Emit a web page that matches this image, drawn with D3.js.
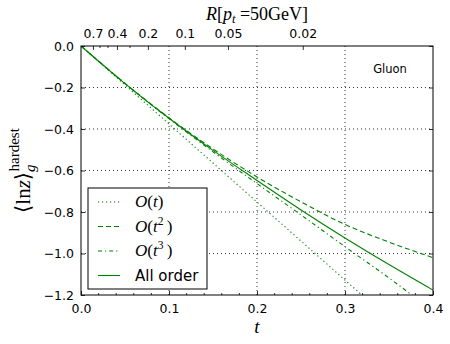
<!DOCTYPE html>
<html>
<head>
<meta charset="utf-8">
<script src="https://cdn.jsdelivr.net/npm/d3@7"></script>
<style>
  body { margin: 0; background: #fff; }
  svg { display: block; }
  .tick text { font-family: "DejaVu Sans", sans-serif; font-size: 12.5px; fill: #000; }
  .math { font-family: "Liberation Serif", "DejaVu Serif", serif; }
</style>
</head>
<body>
<svg id="chart" width="450" height="344"></svg>
<script>
// values
const tVals       = [0, 0.05, 0.1, 0.15, 0.2, 0.25, 0.3, 0.35, 0.4];
const firstOrder  = [0, -0.188, -0.376, -0.564, -0.752, -0.940, -1.128, -1.316, -1.504];
const secondOrder = [0, -0.180, -0.346, -0.496, -0.631, -0.751, -0.860, -0.945, -1.020];
const thirdOrder  = [0, -0.181, -0.350, -0.510, -0.663, -0.814, -0.967, -1.118, -1.278];
const allOrder    = [0, -0.181, -0.348, -0.503, -0.648, -0.790, -0.925, -1.053, -1.176];

const xTicks = [0, 0.1, 0.2, 0.3, 0.4];
const yTicks = [0, -0.2, -0.4, -0.6, -0.8, -1.0, -1.2];
// top axis: jet radius R at pt = 50 GeV, placed at the t it maps to
const rLabels = ['0.7', '0.4', '0.2', '0.1', '0.05', '0.02'];
const rTickT  = [0.0136, 0.0409, 0.076, 0.118, 0.167, 0.252];
const rMinorT = [0.0216, 0.0307, 0.0557];

const green = '#008000';

$chart();

function $chart() {
  const svg = d3.select('svg#chart');
  const [W, H] = [450, 344];
  const margin = {top: 46, right: 17, bottom: 49, left: 81};
  const iw = W - margin.left - margin.right;
  const ih = H - margin.top - margin.bottom;

  const g = svg.append('g').attr('transform', `translate(${margin.left},${margin.top})`);

  const x = d3.scaleLinear().domain([0, 0.4]).range([0, iw]);
  const y = d3.scaleLinear().domain([-1.2, 0]).range([ih, 0]);

  // dotted grid
  g.append('g').selectAll('line.vg')
    .data(xTicks.slice(1, -1)).enter().append('line')
    .attr('x1', d => x(d)).attr('x2', d => x(d))
    .attr('y1', 0).attr('y2', ih)
    .style('stroke', '#000').style('stroke-width', 0.8)
    .style('stroke-dasharray', '1,3');
  g.append('g').selectAll('line.hg')
    .data(yTicks.slice(1, -1)).enter().append('line')
    .attr('x1', 0).attr('x2', iw)
    .attr('y1', d => y(d)).attr('y2', d => y(d))
    .style('stroke', '#000').style('stroke-width', 0.8)
    .style('stroke-dasharray', '1,3');

  // curves
  g.append('clipPath').attr('id', 'clip')
    .append('rect').attr('width', iw).attr('height', ih);

  const line = d3.line()
    .x(d => x(d[0])).y(d => y(d[1]))
    .curve(d3.curveMonotoneX);

  const series = [
    {name: 'first', vals: firstOrder, dash: '1.2,2.8'},
    {name: 'second', vals: secondOrder, dash: '5,3'},
    {name: 'third', vals: thirdOrder, dash: '4,3,1.2,3'},
    {name: 'all', vals: allOrder, dash: null}
  ];

  g.append('g').attr('clip-path', 'url(#clip)')
    .selectAll('path')
    .data(series).enter().append('path')
    .attr('d', s => line(tVals.map((t, i) => [t, s.vals[i]])))
    .style('fill', 'none')
    .style('stroke', green)
    .style('stroke-width', 1.1)
    .style('stroke-dasharray', s => s.dash);

  // axes (ticks pointing inward)
  const xAxis = d3.axisBottom(x).tickValues(xTicks).tickFormat(d3.format('.1f'))
    .tickSizeInner(-4).tickSizeOuter(0).tickPadding(9);
  g.append('g').attr('class', 'axis').attr('transform', `translate(0,${ih})`).call(xAxis);
  g.append('g').selectAll('line.xminor')
    .data(d3.range(0.02, 0.4, 0.02).filter(v => Math.abs(v * 10 - Math.round(v * 10)) > 1e-6))
    .enter().append('line')
    .attr('x1', d => x(d)).attr('x2', d => x(d))
    .attr('y1', ih).attr('y2', ih - 2)
    .style('stroke', '#000').style('stroke-width', 0.8);

  const yAxis = d3.axisLeft(y).tickValues(yTicks)
    .tickFormat(d => d3.format('.1f')(d).replace('-', '\u2212'))
    .tickSizeInner(-4).tickSizeOuter(0).tickPadding(7);
  g.append('g').attr('class', 'axis').call(yAxis);

  g.append('g').attr('class', 'axis').attr('transform', `translate(${iw},0)`)
    .call(d3.axisRight(y).tickValues(yTicks).tickFormat('').tickSizeInner(-4).tickSizeOuter(0));

  const rAxis = d3.axisTop(x).tickValues(rTickT).tickFormat((d, i) => rLabels[i])
    .tickSizeInner(-4).tickSizeOuter(0).tickPadding(8);
  g.append('g').attr('class', 'axis').call(rAxis);
  g.append('g').selectAll('line.rminor')
    .data(rMinorT).enter().append('line')
    .attr('x1', d => x(d)).attr('x2', d => x(d))
    .attr('y1', 0).attr('y2', 2)
    .style('stroke', '#000').style('stroke-width', 0.8);

  g.selectAll('.axis .domain').remove();
  g.selectAll('.axis .tick line').style('stroke', '#000').style('stroke-width', 0.8);

  // frame
  g.append('rect').attr('width', iw).attr('height', ih)
    .style('fill', 'none').style('stroke', '#000').style('stroke-width', 1);

  // axis labels
  svg.append('text').attr('class', 'math')
    .attr('x', margin.left + iw / 2).attr('y', 333)
    .attr('text-anchor', 'middle').style('font-size', '19px').style('font-style', 'italic')
    .text('t');

  const top = svg.append('text').attr('class', 'math')
    .attr('x', margin.left + iw / 2).attr('y', 20)
    .attr('text-anchor', 'middle').style('font-size', '18px');
  top.append('tspan').style('font-style', 'italic').text('R');
  top.append('tspan').text('[');
  top.append('tspan').style('font-style', 'italic').text('p');
  top.append('tspan').style('font-style', 'italic').style('font-size', '12.5px').attr('dy', 3).text('t');
  top.append('tspan').attr('dy', -3).text(' =50GeV]');

  const yl = svg.append('text').attr('class', 'math')
    .attr('transform', `translate(30,${margin.top + ih / 2}) rotate(-90)`)
    .attr('text-anchor', 'middle').style('font-size', '21px');
  yl.append('tspan').text('\u27e8ln');
  yl.append('tspan').style('font-style', 'italic').text('z');
  yl.append('tspan').text('\u27e9');
  yl.append('tspan').style('font-style', 'italic').style('font-size', '15px').attr('dy', 5).text('g');
  yl.append('tspan').style('font-size', '15px').attr('dx', -7).attr('dy', -16).text('hardest');

  // Gluon tag
  svg.append('text')
    .attr('x', 390).attr('y', 73).attr('text-anchor', 'middle')
    .style('font-family', '"DejaVu Sans", sans-serif').style('font-size', '11.5px')
    .text('Gluon');

  // legend
  const leg = svg.append('g').attr('transform', 'translate(88,188)');
  leg.append('rect').attr('width', 119).attr('height', 101)
    .style('fill', '#fff').style('stroke', '#000').style('stroke-width', 1);

  const legLabels = [
    {sup: null, text: 't'},
    {sup: '2', text: 't'},
    {sup: '3', text: 't'},
    {plain: 'All order'}
  ];
  const rows = leg.selectAll('g.row')
    .data(series).enter().append('g')
    .attr('transform', (d, i) => `translate(0,${14 + i * 24.5})`);
  rows.append('line')
    .attr('x1', 10).attr('x2', 32).attr('y1', 0).attr('y2', 0)
    .style('stroke', green).style('stroke-width', 1.1)
    .style('stroke-dasharray', s => s.dash);
  rows.each(function(s, i) {
    const lab = legLabels[i];
    const t = d3.select(this).append('text').attr('x', 47).attr('y', 5);
    if (lab.plain) {
      t.style('font-family', '"DejaVu Sans", sans-serif').style('font-size', '15px').text(lab.plain);
      return;
    }
    t.attr('class', 'math').style('font-size', '17px');
    t.append('tspan').style('font-style', 'italic').text('O');
    t.append('tspan').text('(');
    t.append('tspan').style('font-style', 'italic').text(lab.text);
    if (lab.sup) {
      t.append('tspan').style('font-size', '11.5px').attr('dy', -7).text(lab.sup);
      t.append('tspan').attr('dy', 7).text('\u2009)');
    } else {
      t.append('tspan').text(')');
    }
  });
}
</script>
</body>
</html>
